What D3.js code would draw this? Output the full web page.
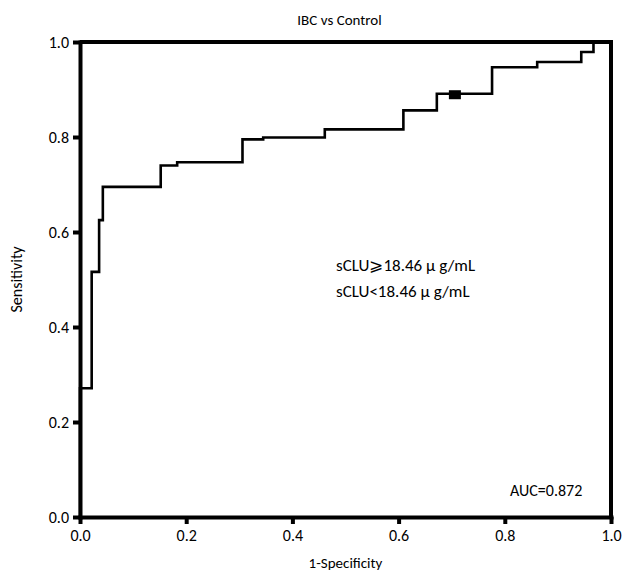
<!DOCTYPE html>
<html>
  <head>
    <meta charset="utf-8">
    <title>IBC vs Control</title>
    <script src="https://d3js.org/d3.v7.min.js"></script>
    <style>
    html, body {margin: 0; padding: 0; background: #fff;}
    svg text {font-family: Carlito, Calibri, Lato, "Open Sans", sans-serif; fill: #000;}
    .curve {fill: none; stroke: #000; stroke-width: 2.6px;}
    .frame {fill: none; stroke: #000; stroke-width: 4px;}
    .axis path {stroke: #000; stroke-width: 4px;}
    .axis line {stroke: #000; stroke-width: 4px;}
    .axis text {font-size: 16px;}
    </style>
  </head>
  <body>
    <script>

    // ROC corners: horizontal to fpr, then up to tpr
    var fpr = [0, 0, 0.022, 0.036, 0.043, 0.152, 0.183, 0.306, 0.345, 0.461, 0.609, 0.672, 0.776, 0.861, 0.944, 0.967, 1.0];
    var tpr = [0, 0.271, 0.516, 0.625, 0.695, 0.740, 0.747, 0.795, 0.799, 0.816, 0.856, 0.891, 0.947, 0.958, 0.979, 1.0, 1.0];
    var cutoff = [0.706, 0.889];
    var ticks = [0, 0.2, 0.4, 0.6, 0.8, 1.0];
    var title = "IBC vs Control";
    var xLabel = "1-Specificity";
    var yLabel = "Sensitivity";
    var notes = ["sCLU\u2A7E18.46 \u03bc g/mL", "sCLU<18.46 \u03bc g/mL"];
    var aucText = "AUC=0.872";

    var width = 624, height = 574;
    var mLeft = 80, mRight = 611, mTop = 42, mBottom = 517;

    var svg = d3.select("body").append("svg")
        .attr("width", width)
        .attr("height", height);

    var x = d3.scaleLinear().domain([0, 1]).range([mLeft, mRight]);
    var y = d3.scaleLinear().domain([0, 1]).range([mBottom, mTop]);

    var pts = fpr.map(function(d, i) { return [d, tpr[i]]; });

    var line = d3.line()
        .x(function(d) { return x(d[0]); })
        .y(function(d) { return y(d[1]); })
        .curve(d3.curveStepAfter);

    svg.append("path")
        .datum(pts)
        .attr("class", "curve")
        .attr("d", line);

    // top and right borders
    svg.append("path")
        .attr("class", "frame")
        .attr("d", "M" + x(0) + "," + y(1) + "H" + x(1) + "V" + y(0));

    svg.append("g")
        .attr("class", "axis")
        .attr("transform", "translate(0," + mBottom + ")")
        .call(d3.axisBottom(x).tickValues(ticks).tickFormat(d3.format(".1f")).tickSize(7).tickPadding(6).tickSizeOuter(0));

    svg.append("g")
        .attr("class", "axis")
        .attr("transform", "translate(" + mLeft + ",0)")
        .call(d3.axisLeft(y).tickValues(ticks).tickFormat(d3.format(".1f")).tickSize(7).tickPadding(4).tickSizeOuter(0));

    svg.selectAll(".axis .domain").attr("stroke-linecap", "square");

    svg.append("rect")
        .attr("x", x(cutoff[0]) - 6)
        .attr("y", y(cutoff[1]) - 4.5)
        .attr("width", 12)
        .attr("height", 9)
        .attr("fill", "#000");

    svg.append("text")
        .attr("x", (mLeft + mRight) / 2 - 6)
        .attr("y", 25)
        .attr("text-anchor", "middle")
        .style("font-size", "15px")
        .text(title);

    svg.append("text")
        .attr("x", (mLeft + mRight) / 2)
        .attr("y", 568)
        .attr("text-anchor", "middle")
        .style("font-size", "15px")
        .text(xLabel);

    svg.append("text")
        .attr("transform", "translate(22," + ((mTop + mBottom) / 2) + ") rotate(-90)")
        .attr("text-anchor", "middle")
        .style("font-size", "16px")
        .text(yLabel);

    svg.selectAll(".note")
        .data(notes)
        .enter().append("text")
        .attr("class", "note")
        .attr("x", 336)
        .attr("y", function(d, i) { return 271 + i * 26; })
        .style("font-size", "17px")
        .text(function(d) { return d; });

    svg.append("text")
        .attr("x", 510)
        .attr("y", 496)
        .style("font-size", "16px")
        .text(aucText);

    </script>
  </body>
</html>
